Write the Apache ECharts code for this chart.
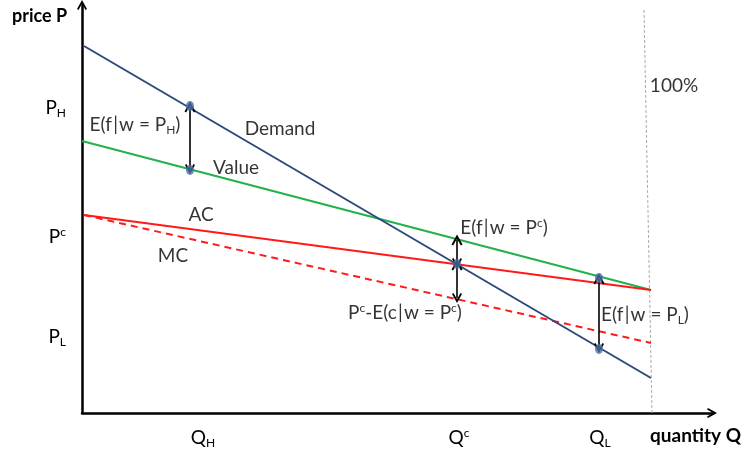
<!DOCTYPE html>
<html><head><meta charset="utf-8">
<script src="https://cdn.jsdelivr.net/npm/echarts@6/dist/echarts.min.js"></script>
<style>html,body{margin:0;padding:0;background:#fff}#c{width:748px;height:453px}</style>
</head><body><div id="c"></div>
<script>
// Curves (quantity, price) in chart units
const demandCurve = [[2, 367], [569, 35]];
const valueCurve = [[0, 272], [569, 123]];
const acCurve = [[2, 198], [569, 123]];
const mcCurve = [[2, 198], [569, 70]];
const capacityLine = [[562, 403], [570, 0]];
// Marked points
const keyPoints = [[108, 307], [108, 243], [375, 149], [517, 135], [517, 64]];
// Double-headed gap arrows
const gapArrows = [
  [[108, 306], [108, 244]],
  [[375, 173], [375, 150]],
  [[375, 148], [375, 115]],
  [[517, 134], [517, 65]]
];
// Tick labels
const priceTickValues = [305, 176, 76];
const priceTickLabels = ['{m|P}{sub|H}', '{m|P}{sup|c}', '{m|P}{sub|L}'];
const qtyTickValues = [121, 377, 518];
const qtyTickLabels = ['{m|Q}{sub|H}', '{m|Q}{sup|c}', '{m|Q}{sub|L}'];
// Annotations
const annotationTexts = [
  '{m|E(f\u200A|\u200Aw = P}{sub|H}{m|)}', 'Demand', 'Value', 'AC', 'MC',
  '{m|E(f\u200A|\u200Aw = P}{sup|c}{m|)}', '{m|P}{sup|c}{m|-E(c\u200A|\u200Aw = P}{sup|c}{m|)}',
  '{m|E(f\u200A|\u200Aw = P}{sub|L}{m|)}', '100%'
];
const annotationAt = [[53, 288], [198, 284], [154, 245], [119, 198], [91, 157],
  [422, 185], [323, 100], [563, 98], [592, 327]];

const FONT = 'Lato';
const FS = 19;
const rich = {
  m: {fontFamily: FONT, fontSize: FS, color: '#000', lineHeight: 22, verticalAlign: 'middle'},
  sub: {fontFamily: FONT, fontSize: 12, color: '#000', lineHeight: 22, verticalAlign: 'bottom', padding: [10, 0, 0, 0]},
  sup: {fontFamily: FONT, fontSize: 12, color: '#000', lineHeight: 22, verticalAlign: 'top', padding: [0, 0, 8, 0]}
};
const chevron = 'path://M5,0 L10,9 L8.5,10 L5,3.8 L1.5,10 L0,9 Z';

const chart = echarts.init(document.getElementById('c'), null, {renderer: 'canvas'});
function lineSeries(data, color, dashed) {
  return {type: 'line', data, symbol: 'none', silent: true,
    lineStyle: {color, width: 2, type: dashed ? [7, 5] : 'solid'}, z: 3};
}
chart.setOption({
  animation: false,
  backgroundColor: '#fff',
  grid: {left: 82, right: 36, top: 5, bottom: 40, containLabel: false},
  xAxis: {
    type: 'value', min: 0, max: 630,
    axisLine: {lineStyle: {color: '#000', width: 2.5}, symbol: ['none', chevron], symbolSize: [12, 10]},
    axisTick: {show: false}, splitLine: {show: false},
    axisLabel: {
      customValues: qtyTickValues, margin: 14,
      formatter: v => qtyTickLabels[qtyTickValues.indexOf(v)] || '',
      rich
    }
  },
  yAxis: {
    type: 'value', min: 0, max: 408,
    axisLine: {lineStyle: {color: '#000', width: 2.5}, symbol: ['none', chevron], symbolSize: [12, 10]},
    axisTick: {show: false}, splitLine: {show: false},
    axisLabel: {
      customValues: priceTickValues, margin: 16,
      formatter: v => priceTickLabels[priceTickValues.indexOf(v)] || '',
      rich
    }
  },
  graphic: [
    {type: 'text', left: 12, top: 7, style: {text: 'price P', font: 'bold 18px Lato', fill: '#000'}},
    {type: 'text', left: 650, top: 426, style: {text: 'quantity Q', font: 'bold 19px Lato', fill: '#000'}}
  ],
  series: [
    {type: 'line', data: capacityLine, symbol: 'none', silent: true,
      lineStyle: {color: '#aaa', width: 1, type: [3, 2]}, z: 2},
    lineSeries(valueCurve, '#22b14c'),
    lineSeries(mcCurve, '#ff1a1a', true),
    lineSeries(acCurve, '#ff1a1a'),
    lineSeries(demandCurve, '#2c4a7c'),
    {type: 'lines', coordinateSystem: 'cartesian2d', silent: true, z: 4,
      symbol: [chevron, chevron], symbolSize: [11, 10],
      lineStyle: {color: '#000', width: 1.6, opacity: 1},
      itemStyle: {color: '#000'},
      data: gapArrows.map(c => ({coords: c}))},
    {type: 'scatter', data: keyPoints, symbol: 'circle', symbolSize: [8, 10], z: 5,
      itemStyle: {color: '#4a6fa5'}, silent: true},
    {type: 'scatter', symbolSize: 0, silent: true, z: 6,
      data: annotationAt.map((p, i) => ({value: p, label: {formatter: annotationTexts[i]}})),
      label: {show: true, position: 'inside', fontFamily: FONT, fontSize: FS, color: '#000', rich}}
  ]
});
</script></body></html>
